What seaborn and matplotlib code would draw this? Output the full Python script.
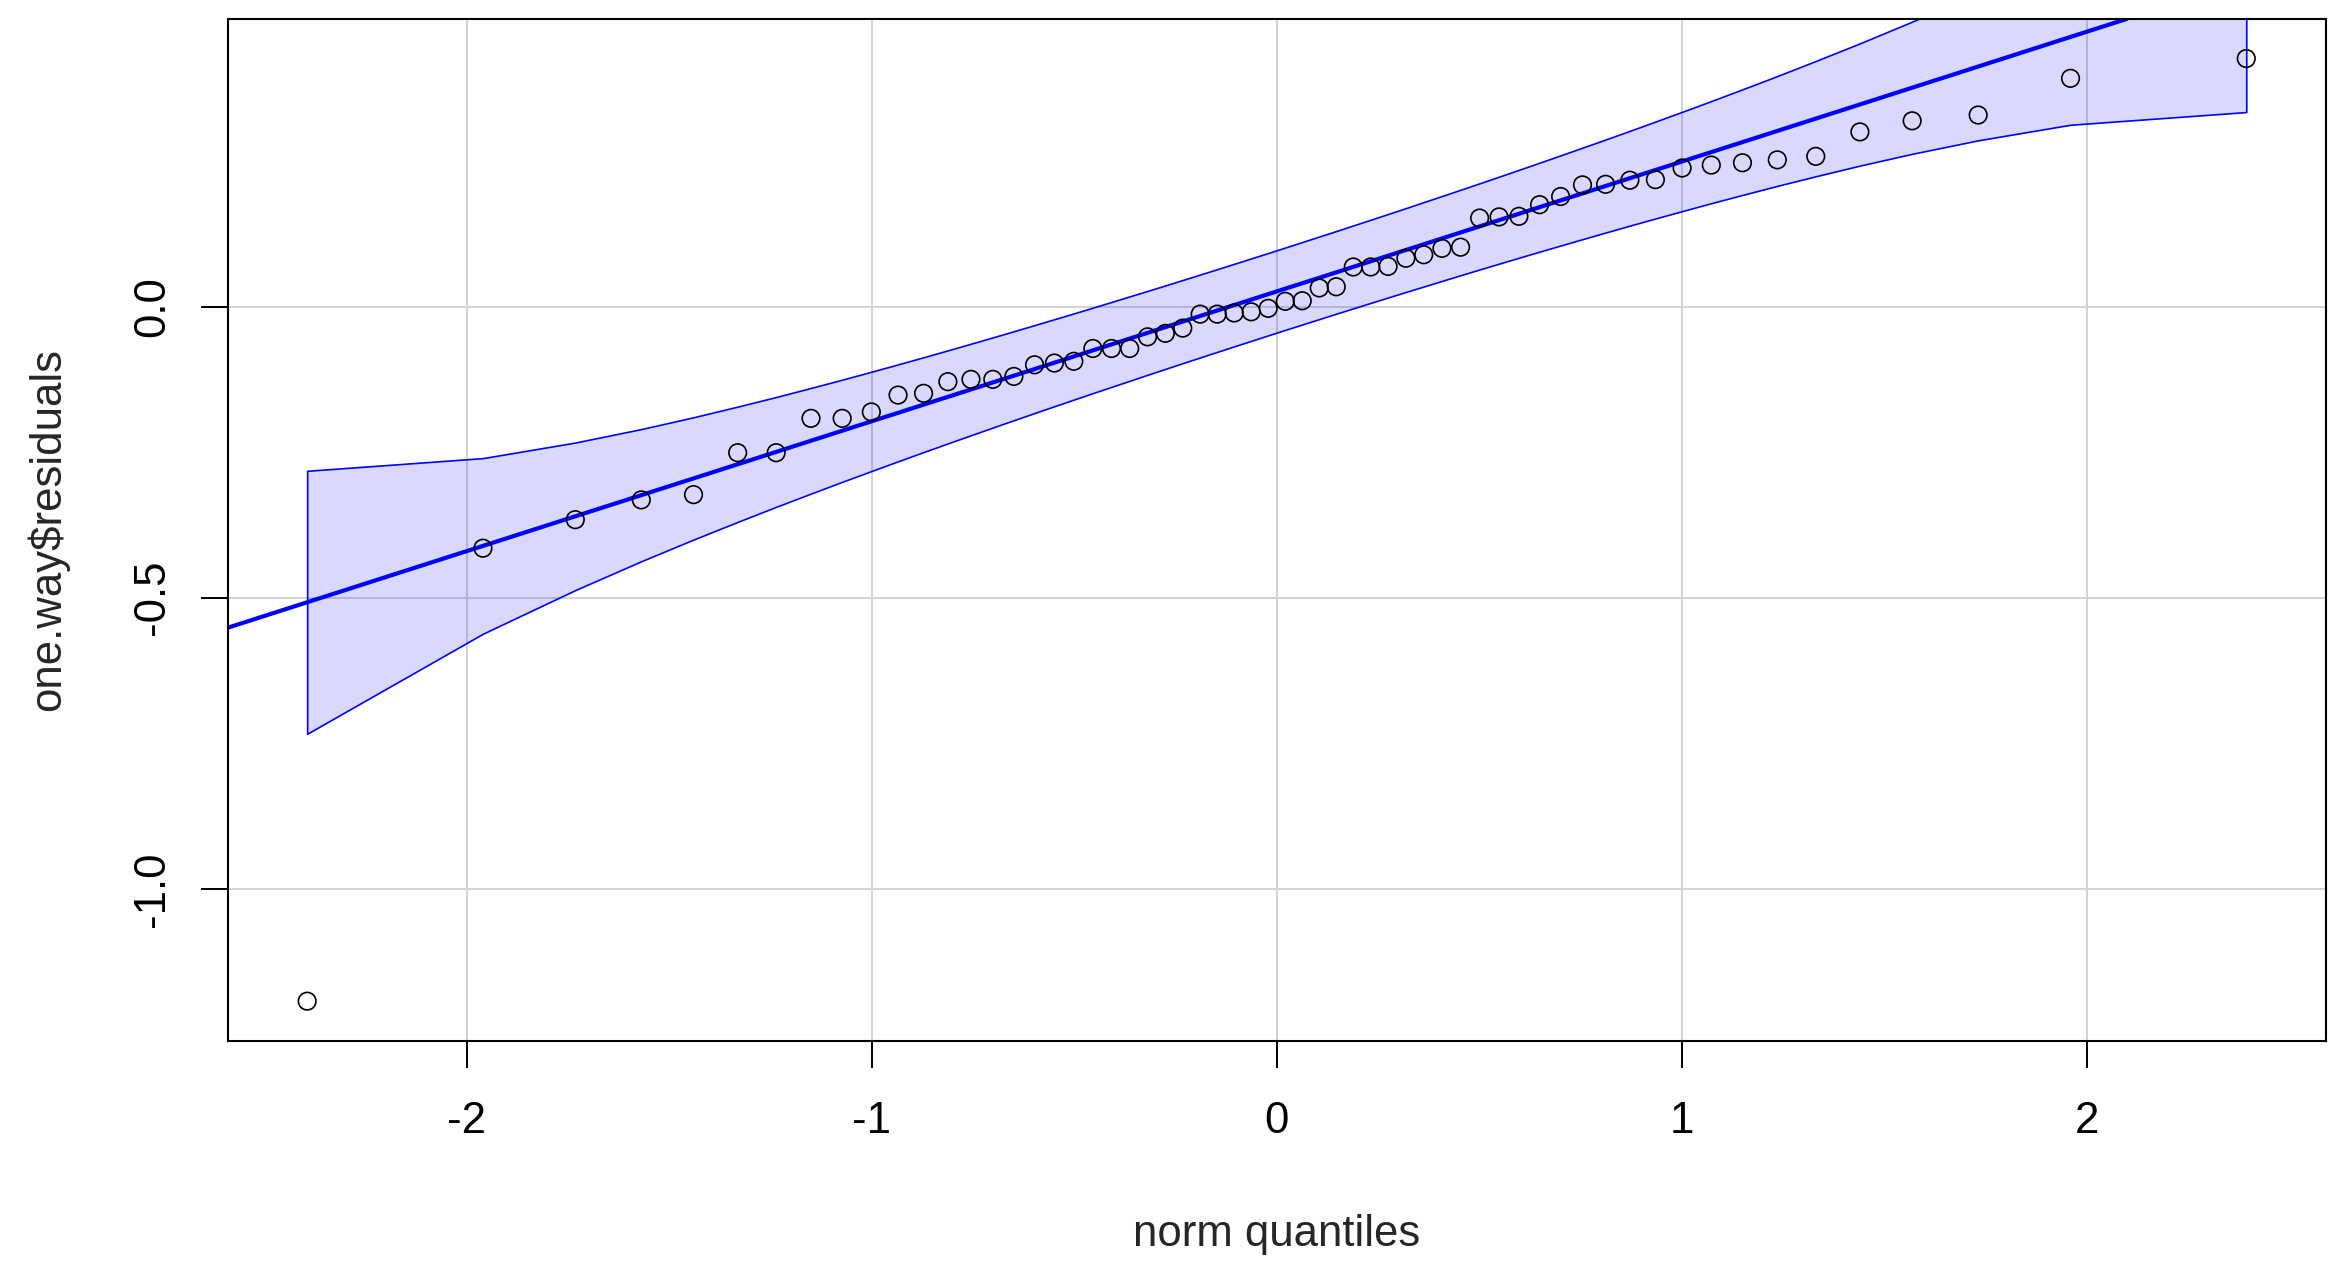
import pandas as pd
import seaborn as sns
import matplotlib.pyplot as plt

# sorted residuals (n = 60)
residuals = [
    -1.193, -0.415, -0.366, -0.332, -0.323, -0.251, -0.251, -0.192, -0.192, -0.181,
    -0.152, -0.149, -0.129, -0.125, -0.125, -0.120, -0.100, -0.097, -0.094, -0.072,
    -0.072, -0.072, -0.052, -0.046, -0.037, -0.013, -0.013, -0.011, -0.009, -0.003,
    0.009, 0.010, 0.032, 0.034, 0.068, 0.068, 0.069, 0.083, 0.089, 0.100,
    0.102, 0.152, 0.154, 0.155, 0.175, 0.189, 0.209, 0.210, 0.217, 0.218,
    0.238, 0.243, 0.247, 0.252, 0.258, 0.300, 0.319, 0.329, 0.392, 0.426,
]

# normal quantiles for the lower half (upper half mirrors it)
norm_q_lower = [
    -2.394, -1.960, -1.732, -1.569, -1.440, -1.331, -1.236, -1.150, -1.073, -1.001,
    -0.935, -0.872, -0.812, -0.755, -0.701, -0.649, -0.598, -0.549, -0.501, -0.454,
    -0.408, -0.363, -0.319, -0.275, -0.232, -0.189, -0.147, -0.105, -0.063, -0.021,
]

# half width of the 95% envelope, lower half (symmetric)
env_half_lower = [
    0.2258, 0.1508, 0.1267, 0.1135, 0.1050, 0.0990, 0.0943, 0.0907, 0.0877, 0.0853,
    0.0832, 0.0814, 0.0799, 0.0786, 0.0774, 0.0764, 0.0755, 0.0747, 0.0740, 0.0734,
    0.0729, 0.0725, 0.0720, 0.0717, 0.0714, 0.0712, 0.0710, 0.0709, 0.0708, 0.0707,
]

line_intercept = 0.026
line_slope = 0.223

x_ticks = [-2, -1, 0, 1, 2]
y_ticks = [-1.0, -0.5, 0.0]
y_tick_labels = ["-1.0", "-0.5", "0.0"]

norm_q = norm_q_lower + [-q for q in reversed(norm_q_lower)]
env_half = env_half_lower + list(reversed(env_half_lower))

df = pd.DataFrame({"q": norm_q, "res": residuals, "hw": env_half})
df["fit"] = line_intercept + line_slope * df["q"]
df["upper"] = df["fit"] + df["hw"]
df["lower"] = df["fit"] - df["hw"]

sns.set_theme(style="white")
plt.rcParams["font.family"] = ["Liberation Sans", "DejaVu Sans"]
plt.rcParams["axes.unicode_minus"] = False

fig = plt.figure(figsize=(23.46, 12.8), dpi=100)
ax = fig.add_axes([0.0971, 0.1869, 0.8944, 0.7983])

# light grey grid under everything
for xt in x_ticks:
    ax.axvline(xt, color="lightgray", lw=1.4, zorder=0)
for yt in y_ticks:
    ax.axhline(yt, color="lightgray", lw=1.4, zorder=0)

# envelope
ax.fill_between(df["q"], df["lower"], df["upper"], facecolor=(0, 0, 1, 0.15),
                edgecolor="blue", linewidth=1.2, zorder=1)

# robust line
ax.axline((0, line_intercept), slope=line_slope, color="blue", lw=3.0, zorder=2)

sns.scatterplot(data=df, x="q", y="res", ax=ax, marker="o", s=160,
                facecolor="none", edgecolor="black", linewidth=1.2, zorder=3)

ax.set_xlim(-2.590, 2.591)
ax.set_ylim(-1.261, 0.494)

ax.set_xticks(x_ticks)
ax.set_xticklabels([str(t) for t in x_ticks])
ax.set_yticks(y_ticks)
ax.set_yticklabels(y_tick_labels, rotation=90, va="center")
ax.tick_params(axis="both", direction="out", length=19.4, width=1.4,
               labelsize=31.5, colors="black")
ax.tick_params(axis="x", pad=24, bottom=True)
ax.tick_params(axis="y", pad=20, left=True)

for sp in ax.spines.values():
    sp.set_visible(True)
    sp.set_color("black")
    sp.set_linewidth(1.5)

ax.set_xlabel("")
ax.set_ylabel("")
fig.text(0.5443, 0.0359, "norm quantiles", ha="center", va="center", fontsize=31.5)
fig.text(0.0205, 0.586, r"one.way\$residuals", ha="center", va="center",
         rotation=90, fontsize=31.5)

fig.savefig("out.png", dpi=100)
